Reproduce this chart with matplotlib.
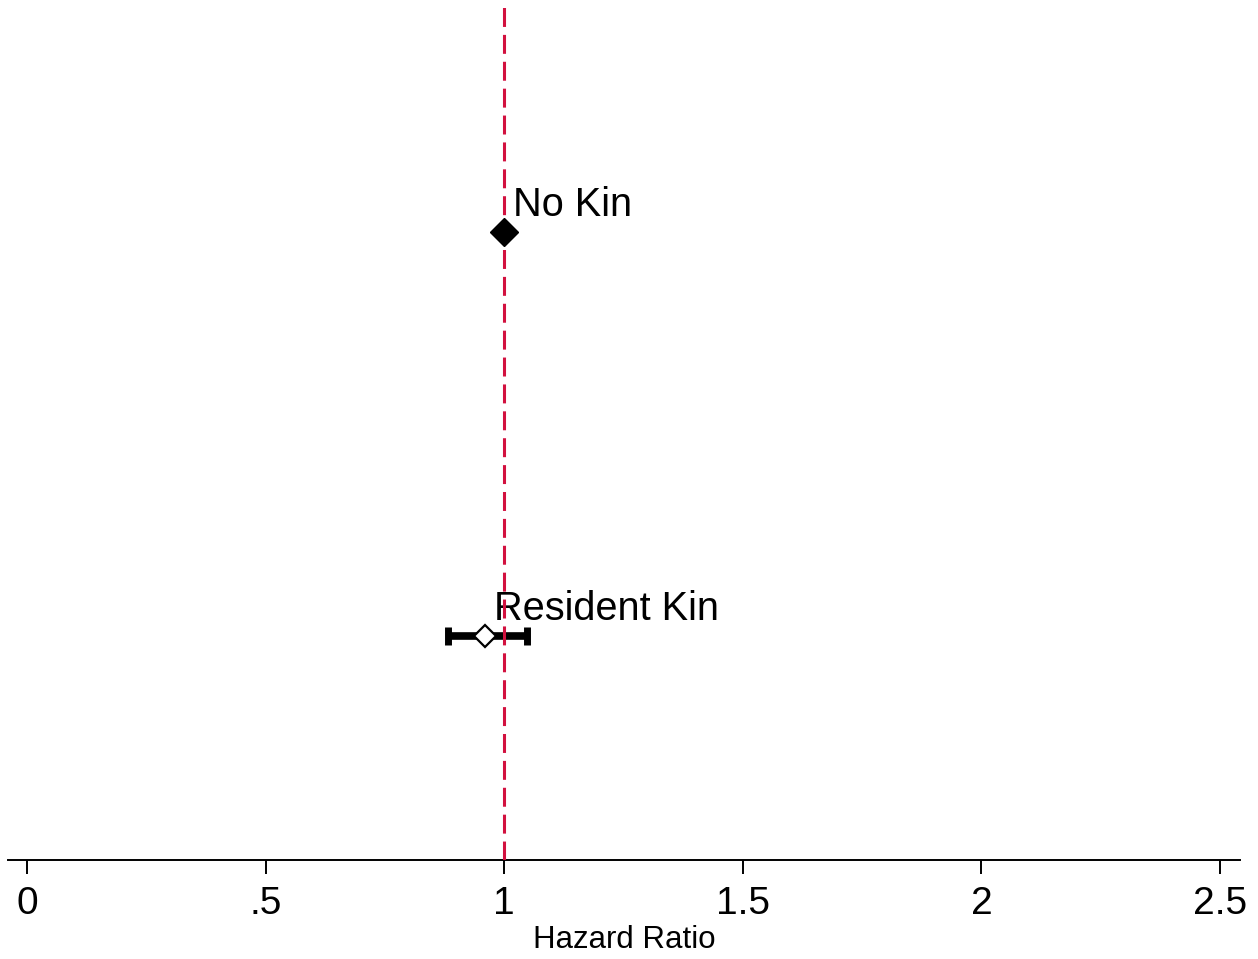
import matplotlib.pyplot as plt

plt.rcParams['font.family'] = ['Liberation Sans', 'DejaVu Sans']

groups = ['No Kin', 'Resident Kin']
hazard = [1.0, 0.96]
ci_low = [None, 0.882]
ci_high = [None, 1.047]
ypos = [1, 2]

xticks = [0, 0.5, 1, 1.5, 2, 2.5]
xticklabels = ['0', '.5', '1', '1.5', '2', '2.5']

fig = plt.figure(figsize=(12.58, 9.59), dpi=100)
ax = fig.add_axes([8 / 1258, 99 / 959, 1232 / 1258, 860 / 959])

# reference line at HR = 1
ax.axvline(1, color='#D2113F', lw=2.2, ls=(0, (6.2, 2.6)), zorder=3)

# confidence interval for resident kin
ax.errorbar([hazard[1]], [ypos[1]],
            xerr=[[hazard[1] - ci_low[1]], [ci_high[1] - hazard[1]]],
            fmt='none', ecolor='black', elinewidth=5.5, capsize=6.5,
            capthick=5, zorder=2)

# point estimates
ax.plot(hazard[0], ypos[0], marker='D', ms=14, color='black', ls='none', zorder=4)
ax.plot(hazard[1], ypos[1], marker='D', ms=11.5, mfc='white', mec='black',
        mew=1.6, ls='none', zorder=4)

for g, h, y in zip(groups, hazard, ypos):
    ax.annotate(g, xy=(h, y), xytext=(9, 16), textcoords='offset pixels',
                fontsize=28.6, va='baseline', ha='left', zorder=1)

ax.set_xlim(-0.04, 2.542)
ax.set_ylim(2.554, 0.426)

ax.set_xticks(xticks)
ax.set_xticklabels(xticklabels, fontsize=28)
ax.set_yticks([])
ax.tick_params(axis='x', length=10, width=1.4, pad=9)
for s in ['left', 'right', 'top']:
    ax.spines[s].set_visible(False)
ax.spines['bottom'].set_linewidth(1.4)

ax.set_xlabel('Hazard Ratio', fontsize=22.5, labelpad=2)

fig.savefig('out.png', dpi=100, facecolor='white')
